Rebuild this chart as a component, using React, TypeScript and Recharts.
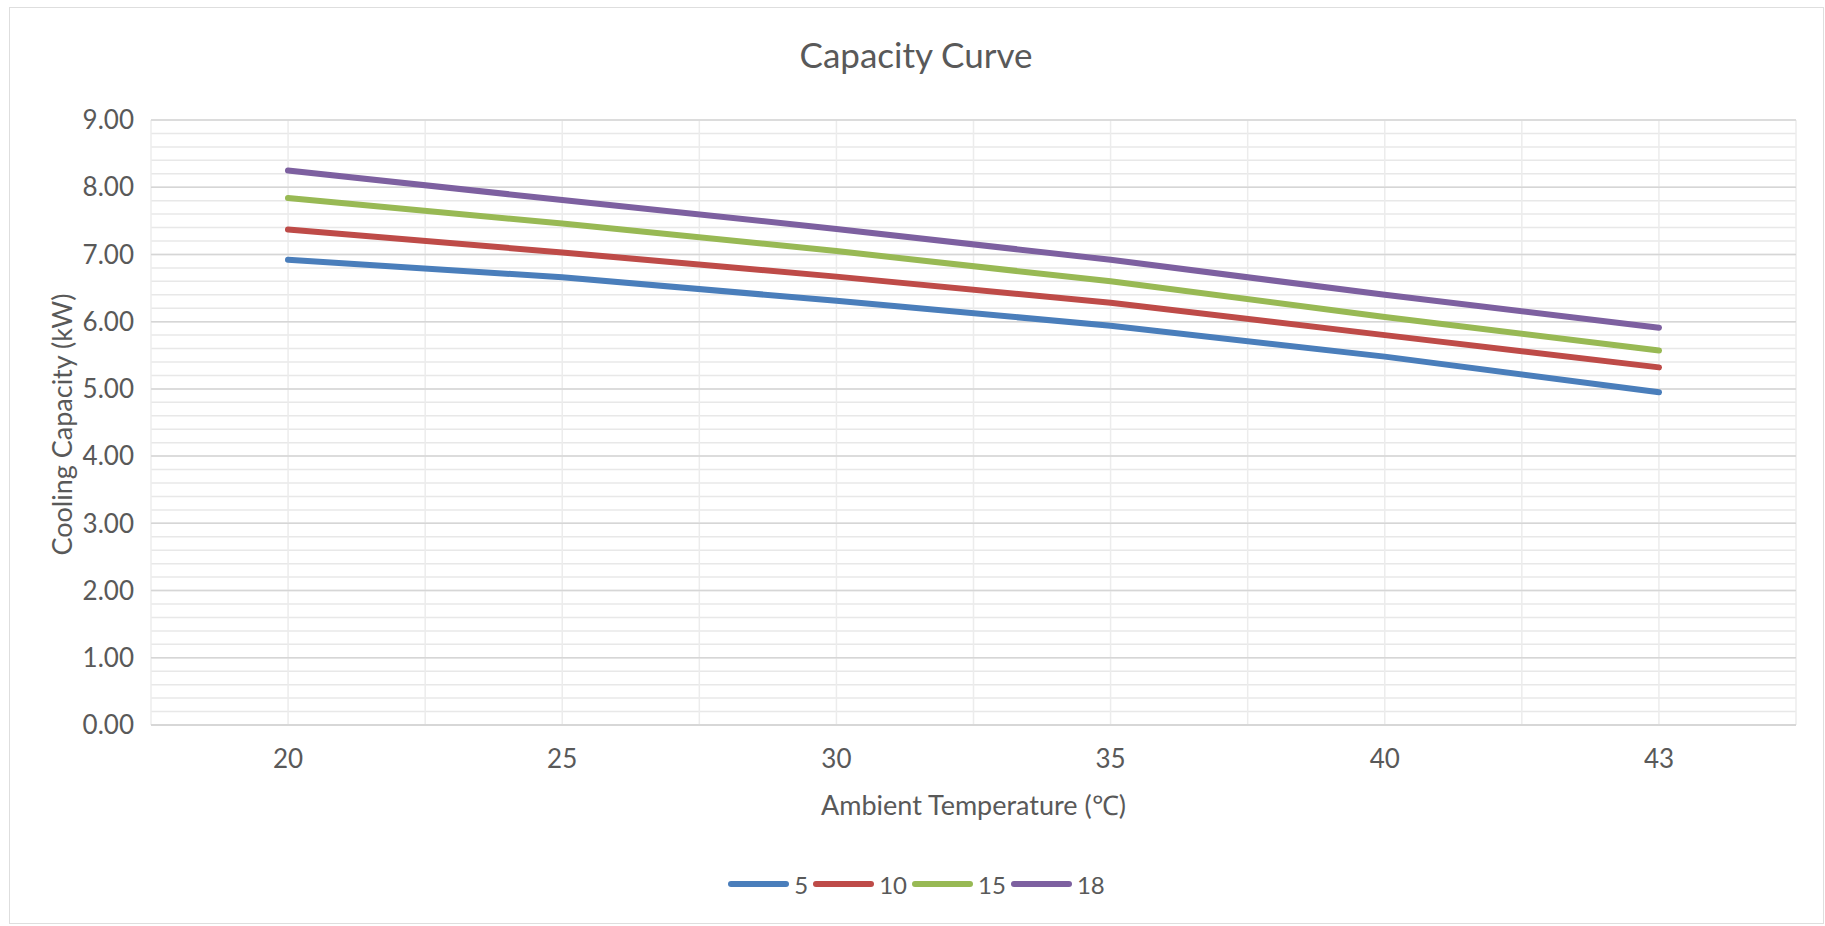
import React from "react"
import { LineChart, Line, XAxis, YAxis, CartesianGrid, Legend } from "recharts"

// ambient temperature categories (°C)
const temps = [20, 25, 30, 35, 40, 43]

// cooling capacity (kW) per water outlet temperature
const cap5 = [6.92, 6.66, 6.31, 5.94, 5.48, 4.95]
const cap10 = [7.37, 7.03, 6.67, 6.28, 5.8, 5.32]
const cap15 = [7.84, 7.46, 7.05, 6.6, 6.07, 5.57]
const cap18 = [8.25, 7.81, 7.38, 6.92, 6.4, 5.91]

const yTicks = [0, 1, 2, 3, 4, 5, 6, 7, 8, 9]
const yMinorTicks = Array.from({ length: 46 }, (_, i) => Math.round(i * 2) / 10)

const series = [
  { key: "s5", name: "5", color: "#4A7EBB" },
  { key: "s10", name: "10", color: "#BE4B48" },
  { key: "s15", name: "15", color: "#98B954" },
  { key: "s18", name: "18", color: "#7D60A0" },
]

const data = temps.map((t, i) => ({
  temp: t,
  s5: cap5[i],
  s10: cap10[i],
  s15: cap15[i],
  s18: cap18[i],
}))

const FONT = "Lato, 'Open Sans', sans-serif"
const TEXT = "#595959"

// minor horizontal lines every 0.2 kW, through the y scale
function minorRows({ yAxis, offset }: any) {
  if (yAxis && typeof yAxis.scale === "function") return yMinorTicks.map((v) => yAxis.scale(v))
  return yMinorTicks.map((v) => offset.top + offset.height * (1 - v / 9))
}

// vertical lines on category centres and on the boundaries between them
function gridCols({ xAxis, offset }: any) {
  let centers: number[]
  if (xAxis && typeof xAxis.scale === "function") {
    centers = temps.map((t) => xAxis.scale(t))
  } else {
    const band = offset.width / temps.length
    centers = temps.map((_, i) => offset.left + band * (i + 0.5))
  }
  const step = centers[1] - centers[0]
  const out: number[] = []
  centers.forEach((c) => {
    out.push(c - step / 2)
    out.push(c)
  })
  out.push(centers[centers.length - 1] + step / 2)
  return out
}

function YTitle(props: any) {
  const vb = props.viewBox
  const cx = vb.x + 61
  const cy = vb.y + vb.height / 2 + 2
  return (
    <text
      x={cx}
      y={cy}
      transform={`rotate(-90 ${cx} ${cy})`}
      textAnchor="middle"
      dominantBaseline="central"
      fill={TEXT}
      fontSize={27}
      fontFamily={FONT}
    >
      Cooling Capacity (kW)
    </text>
  )
}

function XTitle(props: any) {
  const vb = props.viewBox
  return (
    <text
      x={vb.x + vb.width / 2}
      y={vb.y + 79}
      textAnchor="middle"
      dominantBaseline="central"
      fill={TEXT}
      fontSize={27}
      fontFamily={FONT}
    >
      Ambient Temperature (℃)
    </text>
  )
}

function LegendContent() {
  return (
    <div
      style={{
        display: "flex",
        justifyContent: "center",
        alignItems: "center",
        height: 60,
        fontFamily: FONT,
        fontSize: 24,
        color: TEXT,
      }}
    >
      {series.map((s, i) => (
        <div
          key={s.key}
          style={{ display: "flex", alignItems: "center", marginRight: i < series.length - 1 ? 5 : 0 }}
        >
          <svg width={61} height={10}>
            <line x1={3} y1={5} x2={58} y2={5} stroke={s.color} strokeWidth={6} strokeLinecap="round" />
          </svg>
          <span style={{ marginLeft: 5 }}>{s.name}</span>
        </div>
      ))}
    </div>
  )
}

export default function App() {
  return (
    <div style={{ position: "absolute", left: 0, top: 0, width: 1825, height: 926, background: "#fff" }}>
      <div
        style={{
          position: "absolute",
          left: 9,
          top: 7,
          width: 1813,
          height: 915,
          border: "1px solid #dedede",
        }}
      />
      <svg width={1825} height={100} style={{ position: "absolute", left: 0, top: 0 }}>
        <text x={916} y={68} textAnchor="middle" fill={TEXT} fontSize={35} fontFamily={FONT}>
          Capacity Curve
        </text>
      </svg>
      <div style={{ position: "absolute", left: 0, top: 0 }}>
        <LineChart width={1825} height={926} data={data} margin={{ top: 120, right: 29, left: 0, bottom: 12 }}>
          <CartesianGrid
            vertical={false}
            horizontalCoordinatesGenerator={minorRows}
            stroke="#e8e8e8"
            strokeWidth={1.5}
          />
          <CartesianGrid
            horizontal={false}
            verticalCoordinatesGenerator={gridCols}
            stroke="#ececec"
            strokeWidth={1.5}
          />
          <CartesianGrid vertical={false} stroke="#d6d6d6" strokeWidth={1.5} />
          <XAxis
            dataKey="temp"
            type="category"
            padding={{ left: 137, right: 137 }}
            height={129}
            tickLine={false}
            tickSize={0}
            tickMargin={25}
            axisLine={{ stroke: "#d6d6d6", strokeWidth: 1.5 }}
            tick={{ fill: TEXT, fontSize: 26, fontFamily: FONT }}
            label={<XTitle />}
          />
          <YAxis
            width={151}
            domain={[0, 9]}
            ticks={yTicks}
            tickFormatter={(v: number) => v.toFixed(2)}
            axisLine={false}
            tickLine={false}
            tickSize={0}
            tickMargin={17}
            tick={{ fill: TEXT, fontSize: 26, fontFamily: FONT }}
            label={<YTitle />}
          />
          <Legend
            verticalAlign="bottom"
            content={<LegendContent />}
            wrapperStyle={{ left: 0, width: 1833, height: 60 }}
          />
          {series.map((s) => (
            <Line
              key={s.key}
              dataKey={s.key}
              name={s.name}
              stroke={s.color}
              strokeWidth={6}
              strokeLinecap="round"
              dot={false}
              activeDot={false}
              type="linear"
              isAnimationActive={false}
            />
          ))}
        </LineChart>
      </div>
    </div>
  )
}
